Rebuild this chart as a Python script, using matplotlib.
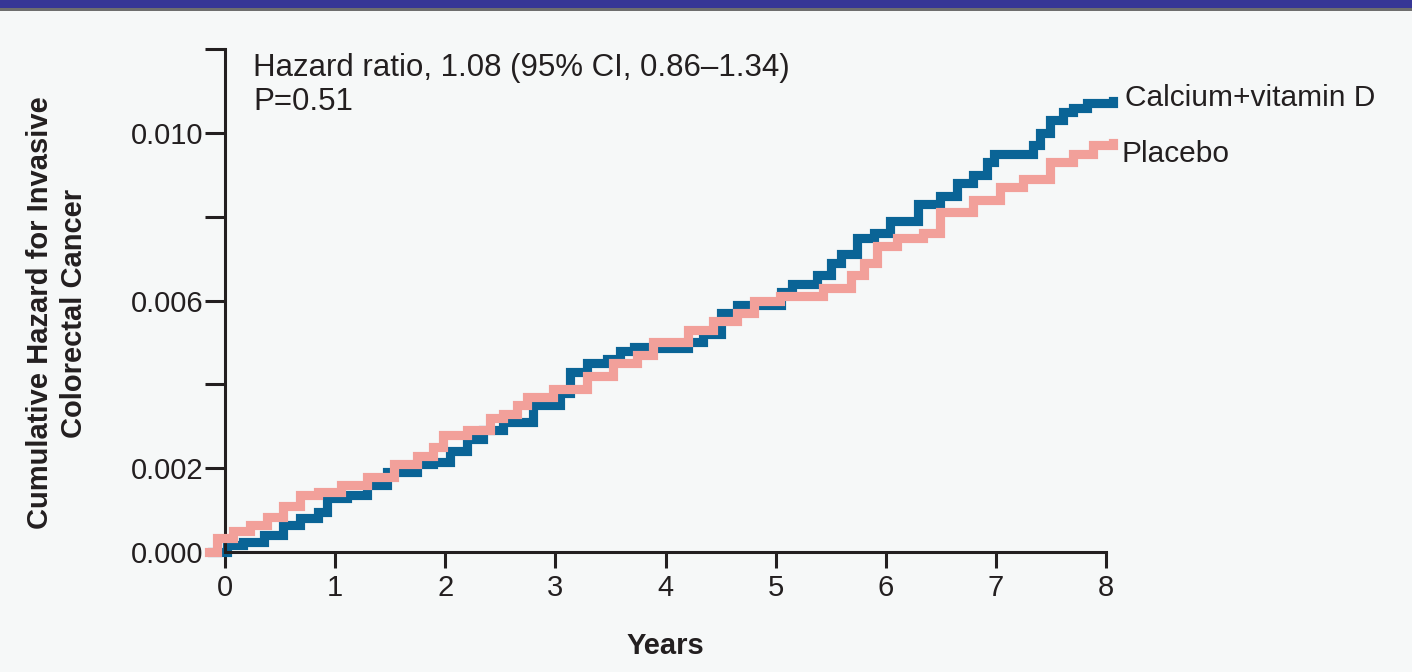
import matplotlib
matplotlib.use("Agg")
import matplotlib.pyplot as plt
from matplotlib.patches import Rectangle

plt.rcParams['font.family'] = ['Liberation Sans', 'DejaVu Sans']

# Cumulative hazard curves (years, cumulative hazard)
calcium_years = [-0.12, 0.02, 0.16, 0.35, 0.53, 0.68, 0.84, 0.93, 1.11, 1.29, 1.47,
                 1.74, 1.89, 2.04, 2.20, 2.34, 2.52, 2.80, 3.04, 3.13, 3.29, 3.47,
                 3.59, 3.71, 3.95, 4.20, 4.34, 4.50, 4.65, 4.95, 5.05, 5.15, 5.38,
                 5.50, 5.59, 5.74, 5.89, 6.04, 6.19, 6.29, 6.49, 6.65, 6.79, 6.92,
                 6.98, 7.25, 7.34, 7.40, 7.49, 7.61, 7.70, 7.83, 8.06]
calcium_hazard = [0.0, 0.00017, 0.00024, 0.0004, 0.00064, 0.0008, 0.00095, 0.0013,
                  0.00136, 0.0016, 0.0019, 0.0021, 0.00215, 0.0024, 0.0027, 0.0029,
                  0.0031, 0.0035, 0.0038, 0.0043, 0.0045, 0.0046, 0.0048, 0.0049,
                  0.00486, 0.0050, 0.0052, 0.0057, 0.0059, 0.0059, 0.0062, 0.0064,
                  0.0066, 0.0069, 0.0071, 0.0075, 0.0076, 0.0079, 0.0079, 0.0083,
                  0.0085, 0.0088, 0.0090, 0.0093, 0.0095, 0.0095, 0.0097, 0.0100,
                  0.0103, 0.0105, 0.0106, 0.0107, 0.01076]

placebo_years = [-0.15, -0.07, 0.07, 0.23, 0.38, 0.53, 0.68, 0.84, 1.05, 1.29, 1.53,
                 1.74, 1.89, 1.98, 2.20, 2.41, 2.52, 2.65, 2.74, 2.98, 3.29, 3.52,
                 3.74, 3.89, 4.20, 4.43, 4.65, 4.80, 5.04, 5.43, 5.68, 5.80, 5.92,
                 6.10, 6.34, 6.49, 6.79, 7.04, 7.25, 7.49, 7.70, 7.88, 8.06]
placebo_hazard = [0.0, 0.00033, 0.0005, 0.00064, 0.00083, 0.0011, 0.00136, 0.00143,
                  0.0016, 0.0018, 0.0021, 0.0023, 0.0025, 0.0028, 0.0029, 0.0032,
                  0.0033, 0.0035, 0.0037, 0.0039, 0.0042, 0.0045, 0.0047, 0.0050,
                  0.0053, 0.0055, 0.0057, 0.0060, 0.0061, 0.0063, 0.0066, 0.0069,
                  0.0073, 0.0075, 0.0076, 0.0081, 0.0084, 0.0087, 0.0089, 0.0093,
                  0.0095, 0.0097, 0.00975]

y_ticks = [0.000, 0.002, 0.004, 0.006, 0.008, 0.010, 0.012]
y_tick_labels = ['0.000', '0.002', '', '0.006', '', '0.010', '']
x_ticks = [0, 1, 2, 3, 4, 5, 6, 7, 8]

BLUE = '#0a6496'
PINK = '#f2a09a'
BG = '#f6f8f8'
INK = '#231f20'

fig = plt.figure(figsize=(14.12, 6.72), dpi=100, facecolor=BG)

# header bar
fig.patches.append(Rectangle((0, 1 - 8 / 672), 1, 8 / 672, transform=fig.transFigure,
                             facecolor='#363696', edgecolor='none'))
fig.patches.append(Rectangle((0, 1 - 11 / 672), 1, 3 / 672, transform=fig.transFigure,
                             facecolor='#6e6e6e', edgecolor='none'))

ax = fig.add_axes([203 / 1412, (672 - 560.4) / 672, (1117 - 203) / 1412, (560.4 - 40.6) / 672])
ax.set_facecolor(BG)
ax.set_xlim(-0.2, 8.1)
ax.set_ylim(-0.0002, 0.0122)

ax.plot(placebo_years, placebo_hazard, drawstyle='steps-post', color=PINK, lw=6.6,
        solid_joinstyle='miter', clip_on=False, zorder=3)
ax.plot(calcium_years, calcium_hazard, drawstyle='steps-post', color=BLUE, lw=6.6,
        solid_joinstyle='miter', clip_on=False, zorder=2)

for side in ['top', 'right']:
    ax.spines[side].set_visible(False)
ax.spines['left'].set_position(('data', 0))
ax.spines['bottom'].set_position(('data', 0))
ax.spines['left'].set_bounds(0, 0.012)
ax.spines['bottom'].set_bounds(0, 8)
for side in ['left', 'bottom']:
    ax.spines[side].set_linewidth(2.2)
    ax.spines[side].set_color(INK)

ax.set_yticks(y_ticks)
ax.set_yticklabels(y_tick_labels)
ax.set_xticks(x_ticks)
ax.tick_params(axis='y', length=14.4, width=2.2, color=INK, pad=1, labelsize=21, labelcolor=INK)
ax.tick_params(axis='x', length=11.5, width=2.2, color=INK, pad=4, labelsize=21, labelcolor=INK)

ax.text(0.254, 0.0119, 'Hazard ratio, 1.08 (95% CI, 0.86\u20131.34)\nP=0.51',
        fontsize=22.5, color=INK, ha='left', va='top', linespacing=1.18)
ax.text(8.17, 0.01082, 'Calcium+vitamin D', fontsize=21.5, color=INK,
        ha='left', va='center', clip_on=False)
ax.text(8.14, 0.0095, 'Placebo', fontsize=21.5, color=INK,
        ha='left', va='center', clip_on=False)

fig.text(57 / 1412, 1 - 313 / 672, 'Cumulative Hazard for Invasive\nColorectal Cancer',
         rotation=90, ha='center', va='center', multialignment='center',
         fontsize=21, fontweight='bold', color=INK, linespacing=1.25)
fig.text(665 / 1412, 1 - 646 / 672, 'Years', ha='center', va='center',
         fontsize=21, fontweight='bold', color=INK)

fig.savefig('out.png', dpi=100, facecolor=BG)
